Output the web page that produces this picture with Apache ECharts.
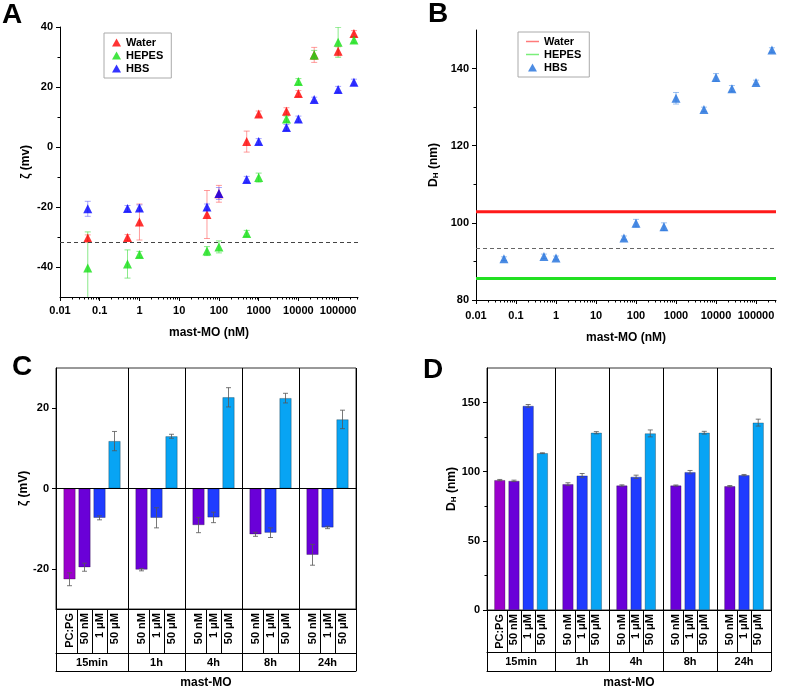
<!DOCTYPE html>
<html>
<head>
<meta charset="utf-8">
<script src="https://cdn.jsdelivr.net/npm/echarts@6/dist/echarts.min.js"></script>
<style>
  html, body { margin: 0; padding: 0; background: #fff; }
  #chart-root { width: 787px; height: 690px; }
</style>
</head>
<body>
<div id="chart-root"></div>
<script>
// ---- A / B : concentration series (nM)
const concNM = [0.05, 0.5, 1, 50, 100, 500, 1000, 5000, 10000, 25000, 100000, 250000]
const waterZeta = [-30.3, -30.2, -25, -22.5, -15.6, 1.8, 11, 11.9, 17.8, 30.7, 31.9, 37.8]
const waterZetaErr = [1, 1, 6, 8, 2.8, 3.5, 1, 1.2, 1, 2.5, 1.5, 1]
const hepesZeta = [-40.3, -39, -35.8, -34.7, -33.3, -28.8, -10.2, 9.3, 21.8, 30.7, 34.9, 35.7]
const hepesZetaErr = [12, 4.7, 1, 1.5, 2, 1, 1.5, 1, 1, 1.5, 5, 1]
const hbsZeta = [-20.6, -20.5, -20.3, -20, -15.5, -10.8, 1.8, 6.5, 9.3, 15.8, 19.2, 21.6]
const hbsZetaErr = [2.5, 1, 1, 1, 2, 1, 1, 1, 1, 0.8, 1, 1]
const zetaLiposome = -31.6

const hbsDH = [90.7, 91.3, 90.9, 96.1, 99.9, 99.0, 132.3, 129.4, 137.7, 134.8, 136.4, 144.8]
const hbsDHErr = [0.5, 0.6, 0.5, 0.5, 1, 1, 1.5, 0.6, 1, 0.8, 0.6, 0.6]
const waterDH = 102.9
const hepesDH = 85.6
const liposomeDH = 93.3

// ---- C / D : time course
const timeGroups = ['15min', '1h', '4h', '8h', '24h']
const groupSamples = [
  ['PC:PG', '50 nM', '1 μM', '50 μM'],
  ['50 nM', '1 μM', '50 μM'],
  ['50 nM', '1 μM', '50 μM'],
  ['50 nM', '1 μM', '50 μM'],
  ['50 nM', '1 μM', '50 μM']
]
const zetaBars = [[-22.6, -19.6, -7.3, 11.8], [-20.2, -7.3, 13.0], [-9.1, -7.2, 22.7], [-11.4, -11, 22.5], [-16.5, -9.7, 17.2]]
const zetaBarErr = [[1.6, 1, 0.5, 2.4], [0.3, 2.5, 0.5], [1.9, 1.3, 2.4], [0.5, 1.2, 1.2], [2.6, 0.3, 2.3]]
const dhBars = [[93.9, 93.4, 147.6, 113.4], [91, 97.2, 128.2], [90, 96.3, 127.7], [90, 99.7, 128.2], [89.5, 97.5, 135.5]]
const dhBarErr = [[0.5, 0.5, 1, 0.3], [1, 1.5, 0.8], [0.5, 1.2, 2.5], [0.4, 1.2, 1], [0.5, 0.5, 2.5]]

const sampleColors = {'PC:PG': '#9a00cc', '50 nM': '#6a00d8', '1 μM': '#1f3cff', '50 μM': '#08a4f4'}

const FONT = '"Liberation Sans", Arial, sans-serif'
const X_MIN = -2
const X_MAX = 5.5
const decadeTicks = [-2, -1, 0, 1, 2, 3, 4, 5]
const minorLogTicks = []
for (let k = -2; k <= 5; k++) {
  for (let m = 2; m <= 9; m++) {
    const v = k + Math.log10(m)
    if (v <= X_MAX) minorLogTicks.push(v)
  }
}
const logLabel = v => {
  const n = Math.pow(10, v)
  return v < 0 ? n.toFixed(-v) : String(Math.round(n))
}

// bar layout inside the time groups
const PAD = 0.9
let layout = (() => {
  const barX = [], cellEdges = [], groupEdges = [0], groupMid = [], names = []
  let start = 0
  groupSamples.forEach(list => {
    cellEdges.push(start)
    list.forEach((n, i) => {
      const x = start + PAD + i
      barX.push(x)
      names.push(n)
      if (i > 0) cellEdges.push(x - 0.5)
    })
    const end = start + 2 * PAD + list.length - 1
    groupMid.push((start + end) / 2)
    groupEdges.push(end)
    start = end
  })
  cellEdges.push(start)
  return {barX, cellEdges, groupEdges, groupMid, names, total: start}
})()
const sampleAt = {}
layout.barX.forEach((x, i) => { sampleAt[x.toFixed(3)] = layout.names[i] })
const groupAt = {}
layout.groupMid.forEach((x, i) => { groupAt[x.toFixed(3)] = timeGroups[i] })

const boldText = (size) => ({color: '#000', fontWeight: 'bold', fontSize: size, fontFamily: FONT})
const LINE_ICON = 'path://M0,0 L26,0 L26,3 L0,3 Z'
const TRI_ICON = 'path://M5,0 L10,9 L0,9 Z'

function logXAxes (gridIndex, margin, nameGap) {
  return [{
    gridIndex, type: 'value', min: X_MIN, max: X_MAX, position: 'bottom',
    name: 'mast-MO (nM)', nameLocation: 'middle', nameGap, nameTextStyle: boldText(12),
    axisLine: {show: true, onZero: false, lineStyle: {color: '#000', width: 1}},
    axisTick: {show: true, customValues: decadeTicks, length: 4, lineStyle: {color: '#000'}},
    axisLabel: {customValues: decadeTicks, formatter: logLabel, margin, ...boldText(11)},
    splitLine: {show: false}
  }, {
    gridIndex, type: 'value', min: X_MIN, max: X_MAX, position: 'bottom',
    axisLine: {show: false, onZero: false},
    axisTick: {show: true, customValues: minorLogTicks, length: 2.5, lineStyle: {color: '#000'}},
    axisLabel: {show: false}, splitLine: {show: false}
  }]
}

function valueYAxes (gridIndex, min, max, major, minor, name, nameGap) {
  const axes = [{
    gridIndex, type: 'value', min, max, position: 'left',
    name, nameLocation: 'middle', nameGap, nameRotate: 90,
    nameTextStyle: {
      ...boldText(12),
      rich: {
        a: {...boldText(12), verticalAlign: 'bottom', lineHeight: 14},
        s: {...boldText(8), verticalAlign: 'bottom', lineHeight: 10}
      }
    },
    axisLine: {show: true, onZero: false, lineStyle: {color: '#000', width: 1}},
    axisTick: {show: true, customValues: major, length: 4, lineStyle: {color: '#000'}},
    axisLabel: {customValues: major, margin: 7, ...boldText(11)},
    splitLine: {show: false}
  }]
  if (minor) {
    axes.push({
      gridIndex, type: 'value', min, max, position: 'left',
      axisLine: {show: false, onZero: false},
      axisTick: {show: true, customValues: minor, length: 2.5, lineStyle: {color: '#000'}},
      axisLabel: {show: false}, splitLine: {show: false}
    })
  }
  return axes
}

function tableXAxes (gridIndex, row1, row2) {
  return [{
    gridIndex, type: 'value', min: 0, max: layout.total, position: 'bottom',
    axisLine: {show: true, onZero: false, lineStyle: {color: '#000'}},
    axisTick: {show: true, customValues: layout.cellEdges, length: row1, lineStyle: {color: '#000'}},
    axisLabel: {customValues: layout.barX, rotate: 90, margin: 4, formatter: v => sampleAt[v.toFixed(3)] || '', ...boldText(11)},
    splitLine: {show: false}
  }, {
    gridIndex, type: 'value', min: 0, max: layout.total, position: 'bottom', offset: row1,
    axisLine: {show: true, onZero: false, lineStyle: {color: '#000'}},
    axisTick: {show: true, customValues: layout.groupEdges, length: row2 - row1, lineStyle: {color: '#000'}},
    axisLabel: {customValues: layout.groupMid, margin: 4, formatter: v => groupAt[v.toFixed(3)] || '', ...boldText(11)},
    splitLine: {show: true, lineStyle: {color: '#000', width: 1}}
  }, {
    gridIndex, type: 'value', min: 0, max: layout.total, position: 'bottom', offset: row2,
    name: 'mast-MO', nameLocation: 'middle', nameGap: 6, nameTextStyle: boldText(12),
    axisLine: {show: true, onZero: false, lineStyle: {color: '#000'}},
    axisTick: {show: false}, axisLabel: {show: false}, splitLine: {show: false}
  }]
}

function errorSeries (name, xAxisIndex, yAxisIndex, data, color, capW, lw) {
  return {
    name, type: 'custom', xAxisIndex, yAxisIndex, z: 1, clip: true,
    renderItem (params, api) {
      const x = api.value(0), y = api.value(1), e = api.value(2)
      const hi = api.coord([x, y + e])
      const lo = api.coord([x, y - e])
      const st = {stroke: color, lineWidth: lw}
      return {
        type: 'group',
        children: [
          {type: 'line', shape: {x1: hi[0], y1: hi[1], x2: lo[0], y2: lo[1]}, style: st},
          {type: 'line', shape: {x1: hi[0] - capW / 2, y1: hi[1], x2: hi[0] + capW / 2, y2: hi[1]}, style: st},
          {type: 'line', shape: {x1: lo[0] - capW / 2, y1: lo[1], x2: lo[0] + capW / 2, y2: lo[1]}, style: st}
        ]
      }
    },
    data
  }
}

const pts = (vals) => concNM.map((c, i) => [Math.log10(c), vals[i]])
const errPts = (vals, errs) => concNM.map((c, i) => [Math.log10(c), vals[i], errs[i]])
const flat = arr => arr.reduce((a, b) => a.concat(b), [])
const barData = vals => flat(vals).map((v, i) => ({
  value: [layout.barX[i], v],
  itemStyle: {color: sampleColors[layout.names[i]]}
}))
const barErr = (vals, errs) => {
  const v = flat(vals), e = flat(errs)
  return v.map((val, i) => [layout.barX[i], val, e[i]])
}

let chart = echarts.init(document.getElementById('chart-root'))

let option = {
  animation: false,
  backgroundColor: '#fff',
  textStyle: {fontFamily: FONT},
  graphic: [
    {type: 'text', x: 12, y: 15, style: {text: 'A', font: 'bold 28px ' + FONT, fill: '#000', textAlign: 'center', textVerticalAlign: 'middle'}},
    {type: 'text', x: 438, y: 14, style: {text: 'B', font: 'bold 28px ' + FONT, fill: '#000', textAlign: 'center', textVerticalAlign: 'middle'}},
    {type: 'text', x: 22, y: 367, style: {text: 'C', font: 'bold 28px ' + FONT, fill: '#000', textAlign: 'center', textVerticalAlign: 'middle'}},
    {type: 'text', x: 433, y: 370, style: {text: 'D', font: 'bold 28px ' + FONT, fill: '#000', textAlign: 'center', textVerticalAlign: 'middle'}}
  ],
  legend: [{
    data: ['Water', 'HEPES', 'HBS'],
    left: 104, top: 33, orient: 'vertical', itemGap: 2,
    itemWidth: 9, itemHeight: 8, padding: [4, 8, 4, 8],
    borderColor: '#aaa', borderWidth: 1,
    textStyle: boldText(11), selectedMode: false
  }, {
    data: [
      {name: 'B:Water', icon: LINE_ICON, itemStyle: {color: '#ff7a7a'}},
      {name: 'B:HEPES', icon: LINE_ICON, itemStyle: {color: '#7aee7a'}},
      {name: 'B:HBS', icon: TRI_ICON}
    ],
    formatter: n => n.replace('B:', ''),
    left: 518, top: 32, orient: 'vertical', itemGap: 2,
    itemWidth: 13, itemHeight: 8, padding: [4, 8, 4, 8],
    borderColor: '#aaa', borderWidth: 1,
    textStyle: boldText(11), selectedMode: false
  }],
  grid: [
    {left: 60, top: 27, width: 298, height: 270},
    {left: 476, top: 30, width: 300, height: 270},
    {left: 56, top: 368, width: 300, height: 243, show: true, borderColor: '#333', borderWidth: 1, backgroundColor: 'transparent'},
    {left: 487, top: 368, width: 284, height: 242, show: true, borderColor: '#333', borderWidth: 1, backgroundColor: 'transparent'}
  ],
  xAxis: [
    ...logXAxes(0, 8, 30),
    ...logXAxes(1, 10, 32),
    ...tableXAxes(2, 44, 62),
    ...tableXAxes(3, 42, 61)
  ],
  yAxis: [
    ...valueYAxes(0, -50, 40, [-40, -20, 0, 20, 40], [-30, -10, 10, 30], 'ζ (mv)', 28),
    ...valueYAxes(1, 80, 150, [80, 100, 120, 140], [90, 110, 130], '{a|D}{s|H}{a| (nm)}', 36),
    ...valueYAxes(2, -30, 30, [-20, 0, 20], null, 'ζ (mV)', 19),
    ...valueYAxes(3, 0, 175, [0, 50, 100, 150], [25, 75, 125], '{a|D}{s|H}{a| (nm)}', 28)
  ],
  series: [
    // panel A
    errorSeries('Water err', 0, 0, errPts(waterZeta, waterZetaErr), 'rgba(255,90,90,0.6)', 6, 1),
    errorSeries('HEPES err', 0, 0, errPts(hepesZeta, hepesZetaErr), 'rgba(60,220,60,0.6)', 6, 1),
    errorSeries('HBS err', 0, 0, errPts(hbsZeta, hbsZetaErr), 'rgba(90,90,255,0.55)', 6, 1),
    {
      name: 'Water', type: 'scatter', xAxisIndex: 0, yAxisIndex: 0, z: 2,
      symbol: 'triangle', symbolSize: 9, itemStyle: {color: '#ff0000'},
      data: pts(waterZeta),
      markLine: {
        silent: true, symbol: 'none', label: {show: false},
        lineStyle: {color: '#444', type: [4, 3], width: 1},
        data: [{yAxis: zetaLiposome}]
      }
    },
    {
      name: 'HEPES', type: 'scatter', xAxisIndex: 0, yAxisIndex: 0, z: 2,
      symbol: 'triangle', symbolSize: 9, itemStyle: {color: '#14e014'},
      data: pts(hepesZeta)
    },
    {
      name: 'HBS', type: 'scatter', xAxisIndex: 0, yAxisIndex: 0, z: 2,
      symbol: 'triangle', symbolSize: 9, itemStyle: {color: '#0000ff'},
      data: pts(hbsZeta)
    },
    // panel B
    {
      name: 'B:Water', type: 'line', xAxisIndex: 2, yAxisIndex: 2, symbol: 'none',
      lineStyle: {color: '#ff1a1a', width: 3}, itemStyle: {color: '#ff1a1a'},
      data: [[X_MIN, waterDH], [X_MAX, waterDH]],
      markLine: {
        silent: true, symbol: 'none', label: {show: false},
        lineStyle: {color: '#666', type: [4, 3], width: 1},
        data: [{yAxis: liposomeDH}]
      }
    },
    {
      name: 'B:HEPES', type: 'line', xAxisIndex: 2, yAxisIndex: 2, symbol: 'none',
      lineStyle: {color: '#22e022', width: 3}, itemStyle: {color: '#22e022'},
      data: [[X_MIN, hepesDH], [X_MAX, hepesDH]]
    },
    errorSeries('B:HBS err', 2, 2, errPts(hbsDH, hbsDHErr), 'rgba(40,120,225,0.45)', 6, 1),
    {
      name: 'B:HBS', type: 'scatter', xAxisIndex: 2, yAxisIndex: 2, z: 2,
      symbol: 'triangle', symbolSize: 9, itemStyle: {color: '#1f6fdc'},
      data: pts(hbsDH)
    },
    // panel C
    {
      name: 'zeta bars', type: 'bar', xAxisIndex: 4, yAxisIndex: 4, barWidth: 12,
      itemStyle: {borderColor: 'rgba(0,0,0,0.45)', borderWidth: 0.6},
      data: barData(zetaBars),
      markLine: {
        silent: true, symbol: 'none', label: {show: false},
        lineStyle: {color: '#000', type: 'solid', width: 1},
        data: [{yAxis: 0}]
      }
    },
    {...errorSeries('zeta err', 4, 4, barErr(zetaBars, zetaBarErr), '#555', 5, 0.8), z: 3},
    // panel D
    {
      name: 'dh bars', type: 'bar', xAxisIndex: 7, yAxisIndex: 5, barWidth: 11,
      itemStyle: {borderColor: 'rgba(0,0,0,0.45)', borderWidth: 0.6},
      data: barData(dhBars)
    },
    {...errorSeries('dh err', 7, 5, barErr(dhBars, dhBarErr), '#555', 5, 0.8), z: 3}
  ]
}

chart.setOption(option)
</script>
</body>
</html>
